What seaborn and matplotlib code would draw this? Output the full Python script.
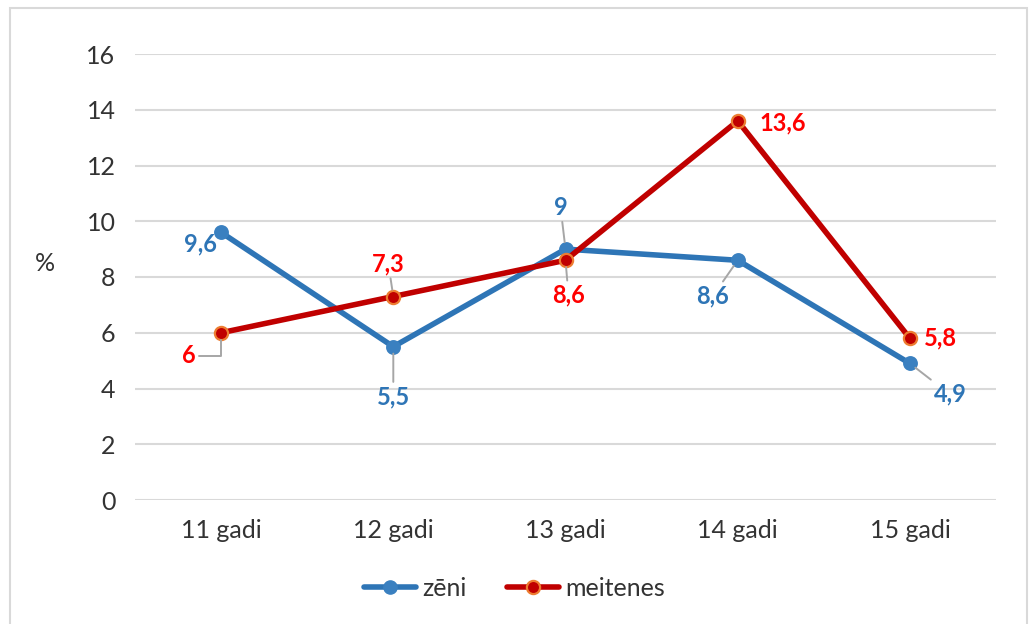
import matplotlib
matplotlib.use("Agg")
import matplotlib.pyplot as plt
from matplotlib.lines import Line2D
from matplotlib.patches import Rectangle
import pandas as pd
import seaborn as sns

# Age groups and shares (%) for boys and girls
categories = ["11 gadi", "12 gadi", "13 gadi", "14 gadi", "15 gadi"]
zeni = [9.6, 5.5, 9.0, 8.6, 4.9]
meitenes = [6.0, 7.3, 8.6, 13.6, 5.8]
y_ticks = [0, 2, 4, 6, 8, 10, 12, 14, 16]

# Label placement (pixel offsets from each point) and whether a leader line is drawn
zeni_label_offsets = [(-21, -12), (0, -50), (-5, 42), (-25, -36), (40, -31)]
zeni_leaders = [False, True, True, True, True]
meit_label_offsets = [(-32, -23), (-5, 33), (3, -35), (45, -2), (31, 0)]
meit_leaders = ["angle", True, True, False, False]

BLUE = "#2E75B6"
BLUE_MK = "#3A80C0"
DARK_RED = "#C00000"
ORANGE = "#ED7D31"
LABEL_RED = "#FF0000"
GRID = "#D9D9D9"
TEXT = "#333333"
LEADER = "#A6A6A6"

LW = 4.0
MS = 9.5

sns.set_theme(style="white")
plt.rcParams["font.family"] = ["Lato", "DejaVu Sans"]

df = pd.DataFrame({
    "vecums": categories * 2,
    "vertiba": zeni + meitenes,
    "dzimums": ["zēni"] * len(categories) + ["meitenes"] * len(categories),
})

fig = plt.figure(figsize=(10.29, 6.24), dpi=100)
ax = fig.add_axes([135 / 1029, 1 - 500 / 624, 861 / 1029, 446 / 624])

sns.lineplot(data=df[df["dzimums"] == "zēni"], x="vecums", y="vertiba", ax=ax,
             color=BLUE, linewidth=LW, marker="o", markersize=MS,
             markerfacecolor=BLUE_MK, markeredgecolor=BLUE_MK, markeredgewidth=1.2,
             sort=False, zorder=3)
sns.lineplot(data=df[df["dzimums"] == "meitenes"], x="vecums", y="vertiba", ax=ax,
             color=DARK_RED, linewidth=LW, marker="o", markersize=MS,
             markerfacecolor=DARK_RED, markeredgecolor=ORANGE, markeredgewidth=1.6,
             sort=False, zorder=4)

ax.set_xlim(-0.5, len(categories) - 0.5)
ax.set_ylim(0, 16)
ax.set_yticks(y_ticks)
ax.set_yticklabels([str(t) for t in y_ticks])
ax.yaxis.grid(True, color=GRID, linewidth=1.5)
ax.set_axisbelow(True)
for s in ax.spines.values():
    s.set_visible(False)
ax.tick_params(axis="both", length=0, labelsize=18, colors=TEXT, pad=14)
ax.tick_params(axis="x", pad=14)
ax.set_xlabel("")
ax.set_ylabel("%", rotation=0, fontsize=18, color=TEXT, labelpad=0)
ax.yaxis.set_label_coords(-0.105, 0.505)


def fmt(v):
    return f"{v:g}".replace(".", ",")


def annotate_series(values, offsets, leaders, color, z):
    for i, (v, off, lead) in enumerate(zip(values, offsets, leaders)):
        kw = {}
        if lead:
            conn = "angle,angleA=0,angleB=90,rad=0" if lead == "angle" else "arc3"
            kw["arrowprops"] = dict(arrowstyle="-", color=LEADER, linewidth=1.4,
                                    shrinkA=0, shrinkB=5, connectionstyle=conn)
        ax.annotate(fmt(v), xy=(i, v), xytext=off, textcoords="offset pixels",
                    ha="center", va="center", fontsize=17, fontweight="bold",
                    color=color, zorder=z, **kw)


annotate_series(zeni, zeni_label_offsets, zeni_leaders, BLUE, 5)
annotate_series(meitenes, meit_label_offsets, meit_leaders, LABEL_RED, 6)

handles = [
    Line2D([], [], color=BLUE, linewidth=LW, marker="o", markersize=MS,
           markerfacecolor=BLUE_MK, markeredgecolor=BLUE_MK),
    Line2D([], [], color=DARK_RED, linewidth=LW, marker="o", markersize=MS,
           markerfacecolor=DARK_RED, markeredgecolor=ORANGE, markeredgewidth=1.6),
]
fig.legend(handles, ["zēni", "meitenes"], loc="center", ncol=2,
           bbox_to_anchor=(0.5, 1 - 588 / 624), frameon=False, fontsize=18,
           handlelength=2.1, handletextpad=0.25, columnspacing=1.6, labelcolor=TEXT)

# Chart frame
fig.patches.append(Rectangle((10 / 1029, -0.02), 1017 / 1029, 1 - 8 / 624 + 0.02,
                             transform=fig.transFigure, fill=False,
                             edgecolor=GRID, linewidth=1.5, zorder=0))

fig.savefig("out.png", dpi=100, facecolor="white")
